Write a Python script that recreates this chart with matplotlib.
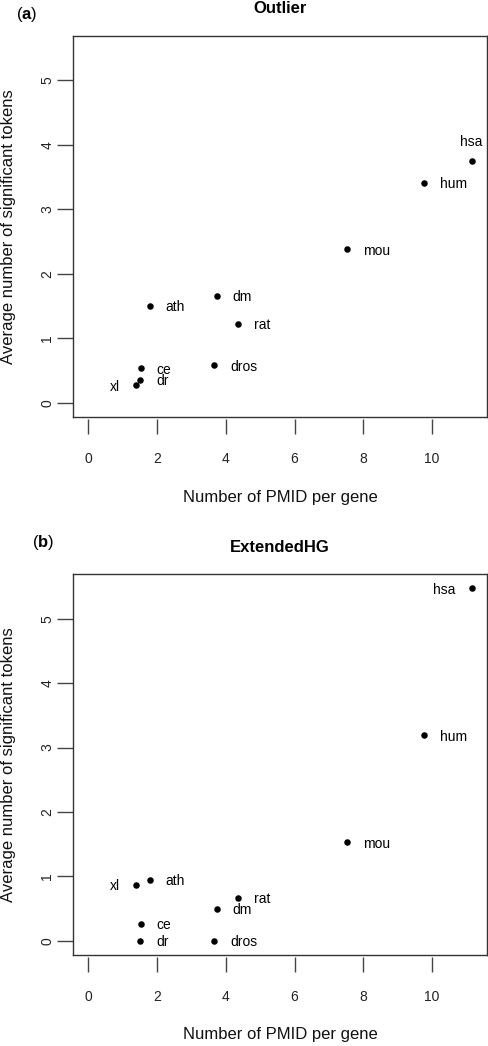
import matplotlib
matplotlib.use("Agg")
import matplotlib.pyplot as plt

plt.rcParams['font.family'] = ['Liberation Sans', 'DejaVu Sans']
plt.rcParams['mathtext.fontset'] = 'custom'
plt.rcParams['mathtext.rm'] = 'Liberation Sans'
plt.rcParams['mathtext.bf'] = 'Liberation Sans:bold'
plt.rcParams['ytick.major.size'] = 11.5
plt.rcParams['ytick.major.width'] = 1.0
plt.rcParams['xtick.major.size'] = 10.8
plt.rcParams['xtick.major.width'] = 1.0

species = ["hsa", "hum", "mou", "dm", "ath", "rat", "dros", "ce", "dr", "xl"]
pmid_per_gene = [11.15, 9.76, 7.53, 3.73, 1.79, 4.34, 3.66, 1.52, 1.50, 1.38]
tokens_outlier = [3.75, 3.41, 2.38, 1.66, 1.51, 1.23, 0.58, 0.54, 0.36, 0.27]
tokens_extended = [5.47, 3.19, 1.53, 0.50, 0.95, 0.67, 0.00, 0.27, 0.00, 0.87]

# label placement (R-style pos: 2=left, 3=above, 4=right)
pos_outlier = {"hsa": 3, "xl": 2}
pos_extended = {"hsa": 2, "xl": 2}

x_ticks = [0, 2, 4, 6, 8, 10]
y_ticks = [0, 1, 2, 3, 4, 5]

W, H = 488, 1046
fig = plt.figure(figsize=(W / 100, H / 100), dpi=100)

def frac(px_left, px_top, px_right, px_bottom):
    return [px_left / W, 1 - px_bottom / H, (px_right - px_left) / W, (px_bottom - px_top) / H]

def r_range(lo, hi):
    d = (hi - lo) * 0.04
    return lo - d, hi + d

frame_col = "#333333"

def panel(rect, yvals, posmap, title, tag, tag_xy):
    ax = fig.add_axes(rect)
    ax.scatter(pmid_per_gene, yvals, s=22, color="black", zorder=3, linewidths=0)
    for name, x, y in zip(species, pmid_per_gene, yvals):
        p = posmap.get(name, 4)
        if p == 4:
            ax.annotate(name, (x, y), xytext=(11.5, 0), textcoords="offset points",
                        ha="left", va="center_baseline", fontsize=10)
        elif p == 2:
            ax.annotate(name, (x, y), xytext=(-11.5, 0), textcoords="offset points",
                        ha="right", va="center_baseline", fontsize=10)
        else:
            ax.annotate(name, (x, y), xytext=(0, 14.5), textcoords="offset points",
                        ha="center", va="center_baseline", fontsize=10)
    ax.set_xlim(*r_range(0, max(pmid_per_gene)))
    ax.set_ylim(*r_range(0, max(tokens_extended)))
    for s in ax.spines.values():
        s.set_color(frame_col)
        s.set_linewidth(1.0)
    ax.set_yticks(y_ticks)
    ax.set_yticklabels([str(v) for v in y_ticks], rotation=90, va="center")
    ax.tick_params(axis="x", bottom=False, labelbottom=False)
    sec = ax.secondary_xaxis(-0.005)
    sec.spines["bottom"].set_visible(False)
    sec.set_xticks(x_ticks)
    sec.set_xticklabels([str(v) for v in x_ticks])
    sec.tick_params(axis="x", direction="out", length=10.8, width=1.0, color="#444444",
                    pad=13, labelsize=10, labelcolor="#222222")
    ax.set_xlabel("Number of PMID per gene", fontsize=12, color="#111111")
    ax.xaxis.label.set_va("center")
    ax.xaxis.set_label_coords(0.5, -0.21)
    ax.set_ylabel("Average number of significant tokens", fontsize=12, color="#111111")
    ax.yaxis.label.set_va("center")
    ax.yaxis.set_label_coords(-0.1546, 0.5)
    ax.text(0.5, 1.071, title, transform=ax.transAxes, ha="center", va="center",
            fontsize=12, fontweight="bold")
    fig.text(tag_xy[0] / W, 1 - tag_xy[1] / H, "($\\mathbf{%s}$)" % tag,
             ha="center", va="center", fontsize=12)
    ax.tick_params(axis="y", which="major", direction="out", length=11.5, width=1.0,
                   color="#444444", pad=2, labelsize=10, labelcolor="#222222")
    return ax

panel(frac(73, 36, 487, 417), tokens_outlier, pos_outlier, "Outlier", "a", (27, 15))
panel(frac(73, 574.3, 487, 955), tokens_extended, pos_extended, "ExtendedHG", "b", (43, 543))

fig.savefig("out.png", dpi=100)
